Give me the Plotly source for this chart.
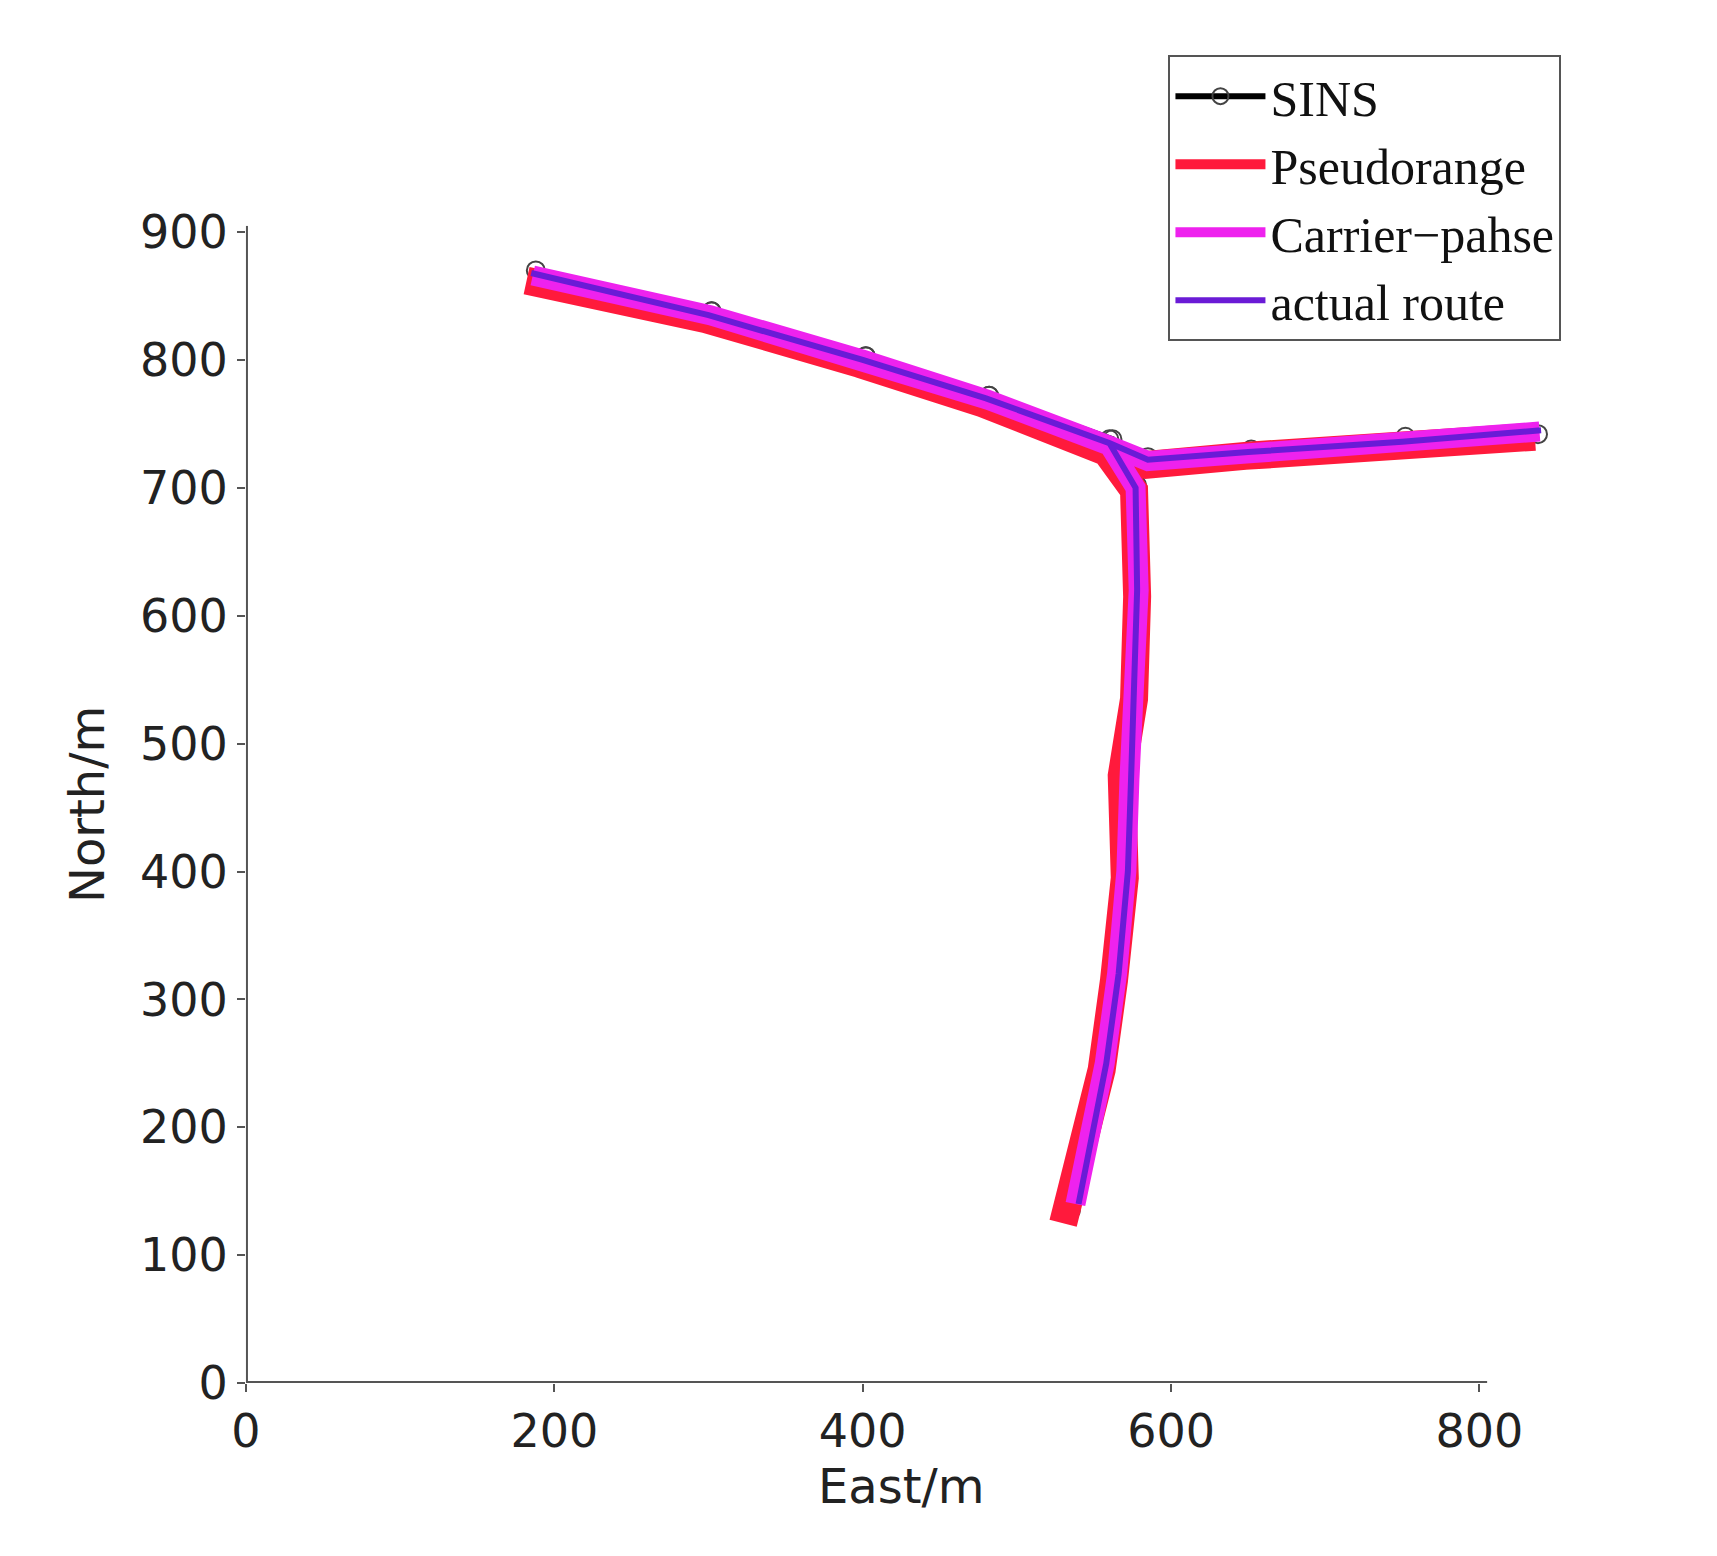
import plotly.graph_objects as go

# waypoints (East, North) in metres
route_e = [540, 548, 558, 566, 572, 574, 576, 578, 577, 560, 480, 400, 300, 185, 300, 400, 480, 560, 585, 650, 750, 840]
route_n = [140, 190, 250, 320, 400, 470, 540, 620, 700, 735, 770, 800, 835, 868, 835, 800, 770, 735, 722, 728, 736, 745]

sins_e = [535, 545, 556, 564, 570, 572, 575, 580, 578, 562, 482, 402, 302, 188, 302, 402, 482, 560, 585, 652, 752, 838]
sins_n = [135, 185, 248, 318, 398, 470, 538, 618, 702, 738, 772, 803, 838, 870, 838, 803, 772, 738, 724, 730, 740, 742]

pr_e = [530, 544, 555, 563, 570, 568, 576, 578, 576, 558, 478, 398, 298, 182, 298, 398, 478, 558, 584, 648, 748, 836]
pr_n = [125, 185, 245, 315, 395, 475, 535, 615, 698, 728, 766, 797, 832, 862, 832, 797, 766, 728, 718, 725, 733, 740]

cp_e = [538, 547, 557, 565, 571, 573, 577, 579, 577, 560, 481, 401, 301, 186, 301, 401, 481, 560, 585, 651, 751, 839]
cp_n = [140, 188, 250, 320, 400, 472, 540, 620, 700, 733, 769, 800, 835, 866, 835, 800, 769, 733, 721, 727, 736, 744]

x_ticks = [0, 200, 400, 600, 800]
y_ticks = list(range(0, 1000, 100))

fig = go.Figure()
fig.add_trace(go.Scatter(x=sins_e, y=sins_n, name="SINS", mode="lines+markers",
                         line=dict(color="black", width=6),
                         marker=dict(size=18, color="rgba(0,0,0,0)", line=dict(color="#444", width=2))))
fig.add_trace(go.Scatter(x=pr_e, y=pr_n, name="Pseudorange", mode="lines",
                         line=dict(color="#ff1a3c", width=28)))
fig.add_trace(go.Scatter(x=cp_e, y=cp_n, name="Carrier\u2212pahse", mode="lines",
                         line=dict(color="#ee22ee", width=20)))
fig.add_trace(go.Scatter(x=route_e, y=route_n, name="actual route", mode="lines",
                         line=dict(color="#6a1bd6", width=6)))

fig.add_shape(type="line", x0=0, x1=805, y0=0, y1=0, xref="x", yref="y",
              line=dict(color="#555", width=4))
fig.add_shape(type="line", x0=0, x1=0, y0=0, y1=905, xref="x", yref="y",
              line=dict(color="#555", width=4))

fig.update_layout(
    width=1717, height=1556, paper_bgcolor="white", plot_bgcolor="white",
    margin=dict(l=0, r=0, t=0, b=0), showlegend=True,
    font=dict(family="DejaVu Sans", color="#222"),
    xaxis=dict(domain=[0.131, 0.901], range=[0, 850], tickvals=x_ticks,
               showgrid=False, zeroline=False, showline=False,
               ticks="outside", ticklen=8, tickwidth=2, tickcolor="#555", tickfont=dict(size=46),
               title=dict(text="East/m", font=dict(size=48), standoff=2)),
    yaxis=dict(domain=[0.102, 0.869], range=[0, 905], tickvals=y_ticks,
               showgrid=False, zeroline=False, showline=False,
               ticks="outside", ticklen=8, tickwidth=2, tickcolor="#555", tickfont=dict(size=46),
               title=dict(text="North/m", font=dict(size=48), standoff=20)),
    legend=dict(x=0.673, y=0.982, xanchor="left", yanchor="top",
                bordercolor="#555", borderwidth=2, bgcolor="white",
                font=dict(family="Liberation Serif", size=50, color="#111"),
                itemwidth=90, tracegroupgap=6),
)
fig.write_html("out.html")
